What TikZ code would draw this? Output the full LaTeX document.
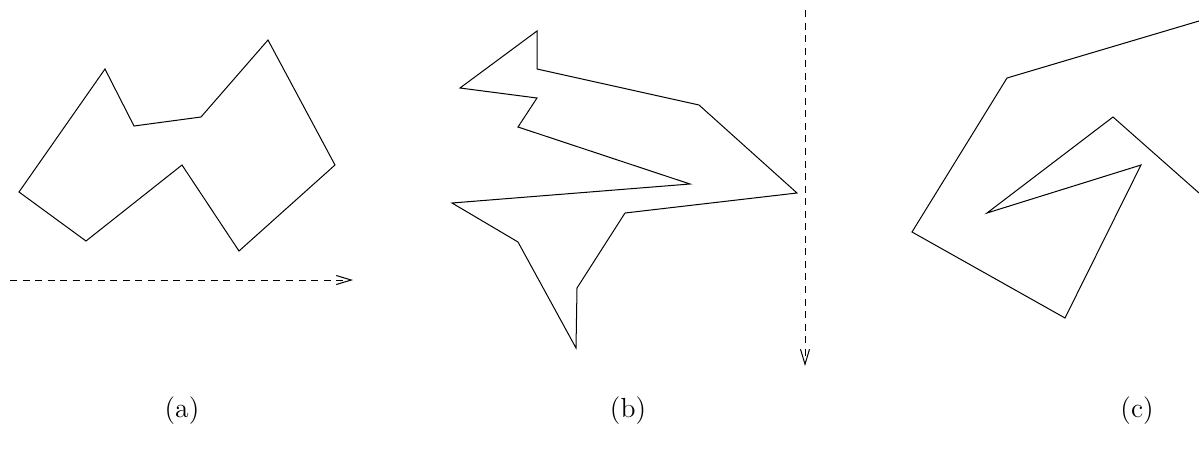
\documentclass[tikz,border=0pt]{standalone}
\usepackage{amsmath,amssymb}
\usepackage{xcolor}
\usepackage{tikz}
\usetikzlibrary{arrows.meta}

\tikzset{
  poly/.style={thin, line join=miter},
  sweep/.style={thin, dash pattern=on 2.8pt off 2.2pt, -{Straight Barb[length=6pt,width=3.6pt]}},
  caption/.style={inner sep=0pt, font=\fontsize{11}{13}\selectfont}
}

\begin{document}
\begin{tikzpicture}[x=0.014cm, y=-0.014cm]
\useasboundingbox (0,0) rectangle (1199,452);
% (a)
\draw[poly] (105,69) -- (134,126) -- (201,117) -- (268,40) -- (335,165) -- (239,251)
  -- (182,165) -- (86,241) -- (19,192) -- cycle;
\coordinate (a0) at (10,280);
\coordinate (a1) at (353,280);
\draw[sweep] (a0) -- (a1);
\node[caption] (capa) at (182,411) {(a)};
% (b)
\draw[poly] (537,31) -- (537,69) -- (699,105) -- (797,193) -- (625,213) -- (577,288)
  -- (576,348) -- (518,242) -- (452,203) -- (690,184) -- (518,127) -- (537,98)
  -- (460,88) -- cycle;
\coordinate (b0) at (805,10);
\coordinate (b1) at (805,366);
\draw[sweep] (b0) -- (b1);
\node[caption] (capb) at (628,411) {(b)};
% (c)
\draw[poly] (1199,21) -- (1007,78) -- (912,232) -- (1065,318) -- (1141,165)
  -- (987,213) -- (1113,117) -- (1199,193);
\node[caption] (capc) at (1137,411) {(c)};
\end{tikzpicture}
\end{document}
